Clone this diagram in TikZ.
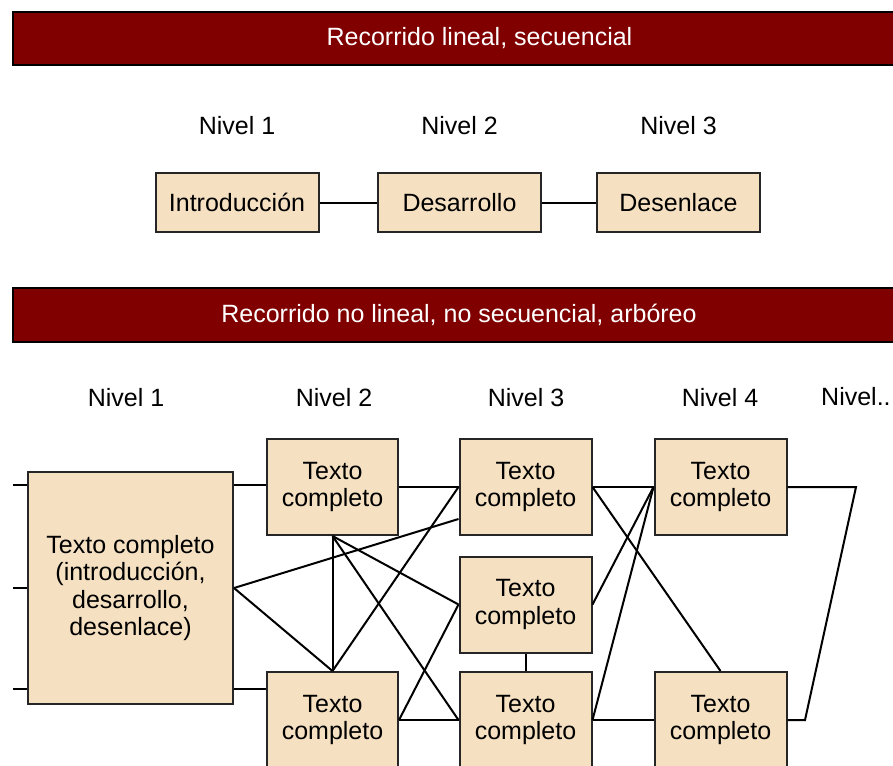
\documentclass[tikz,border=0pt]{standalone}
\usepackage{fontspec}
\setmainfont{Liberation Sans}
\usetikzlibrary{calc}
\definecolor{bannerred}{RGB}{128,0,0}
\definecolor{boxfill}{RGB}{245,225,193}
\tikzset{
  banner/.style={fill=bannerred, draw=black, line width=2pt},
  bannertext/.style={text=white, font=\fontsize{25pt}{27.5pt}\selectfont, inner sep=0pt},
  level/.style={font=\fontsize{25pt}{27.5pt}\selectfont, inner sep=0pt},
  box/.style={draw=black!85, fill=boxfill, line width=2pt, inner sep=0pt,
    align=center, font=\fontsize{25pt}{27.5pt}\selectfont},
  wire/.style={line width=2pt, black},
}
\begin{document}
\begin{tikzpicture}[x=1pt,y=-1pt]
\useasboundingbox (0,0) rectangle (893,765);
\clip (0,0) rectangle (893,765);

% ---- linear, sequential path ----
\draw[banner] (13,12) rectangle (900,65);
\node[bannertext] (t1) at (479.5,38.5) {Recorrido lineal, secuencial};

\node[level] (a1) at (237,126) {Nivel 1};
\node[level] (a2) at (459.5,126) {Nivel 2};
\node[level] (a3) at (678.5,126) {Nivel 3};

\node[box, minimum width=163pt, minimum height=59pt] (intro) at (237,202.5) {Introducción};
\node[box, minimum width=163pt, minimum height=59pt] (desa) at (459.5,202.5) {Desarrollo};
\node[box, minimum width=163pt, minimum height=59pt] (dese) at (678.5,202.5) {Desenlace};
\draw[wire] (intro) -- (desa);
\draw[wire] (desa) -- (dese);

% ---- non-linear, tree-like path ----
\draw[banner] (13,288) rectangle (900,342);
\node[bannertext] (t2) at (459,314.5) {Recorrido no lineal, no secuencial, arbóreo};

\node[level] (b1) at (126,398) {Nivel 1};
\node[level] (b2) at (334,398) {Nivel 2};
\node[level] (b3) at (526,398) {Nivel 3};
\node[level] (b4) at (720,398) {Nivel 4};
\node[level, anchor=west] (b5) at (821,397) {Nivel..};

\node[box, minimum width=205pt, minimum height=232pt] (big) at (130.5,588)
  {Texto completo\\(introducción,\\desarrollo,\\desenlace)};

\node[box, minimum width=131pt, minimum height=96pt] (n2a) at (332.5,487) {Texto\\completo};
\node[box, minimum width=131pt, minimum height=96pt] (n2b) at (332.5,720) {Texto\\completo};
\node[box, minimum width=132pt, minimum height=96pt] (n3a) at (525.5,487) {Texto\\completo};
\node[box, minimum width=132pt, minimum height=96pt] (n3b) at (525.5,604.5) {Texto\\completo};
\node[box, minimum width=132pt, minimum height=96pt] (n3c) at (525.5,720) {Texto\\completo};
\node[box, minimum width=132pt, minimum height=96pt] (n4a) at (720.5,487) {Texto\\completo};
\node[box, minimum width=132pt, minimum height=96pt] (n4b) at (720.5,720) {Texto\\completo};

% stubs entering the large box from the left
\coordinate (s1) at (13,485);
\coordinate (s2) at (13,588);
\coordinate (s3) at (13,689);
\draw[wire] (s1) -- (s1 -| big.west);
\draw[wire] (s2) -- (big.west);
\draw[wire] (s3) -- (s3 -| big.west);

% level 1 -> level 2 / 3
\draw[wire] (big.east |- s1) -- (n2a.west |- s1);
\draw[wire] (big.east |- s3) -- (n2b.west |- s3);
\draw[wire] (big.east) -- ([yshift=-32pt]n3a.west);
\draw[wire] (big.east) -- (n2b.north);

% level 2 -> level 3
\draw[wire] (n2a.south) -- (n2b.north);
\draw[wire] (n2a.east) -- (n3a.west);
\draw[wire] (n2a.south) -- (n3b.west);
\draw[wire] (n2a.south) -- (n3c.west);
\draw[wire] (n2b.north) -- (n3a.west);
\draw[wire] (n2b.east) -- (n3b.west);
\draw[wire] (n2b.east) -- (n3c.west);
\draw[wire] (n3b.south) -- (n3c.north);

% level 3 -> level 4
\draw[wire] (n3a.east) -- (n4a.west);
\draw[wire] (n3a.east) -- (n4b.north);
\draw[wire] (n3b.east) -- (n4a.west);
\draw[wire] (n3c.east) -- (n4a.west);
\draw[wire] (n3c.east) -- (n4b.west);

% loop on the right between the level 4 boxes
\coordinate (r1) at (856,487);
\coordinate (r2) at (805,720);
\draw[wire] (n4a.east) -- (r1) -- (r2) -- (n4b.east);
\end{tikzpicture}
\end{document}
